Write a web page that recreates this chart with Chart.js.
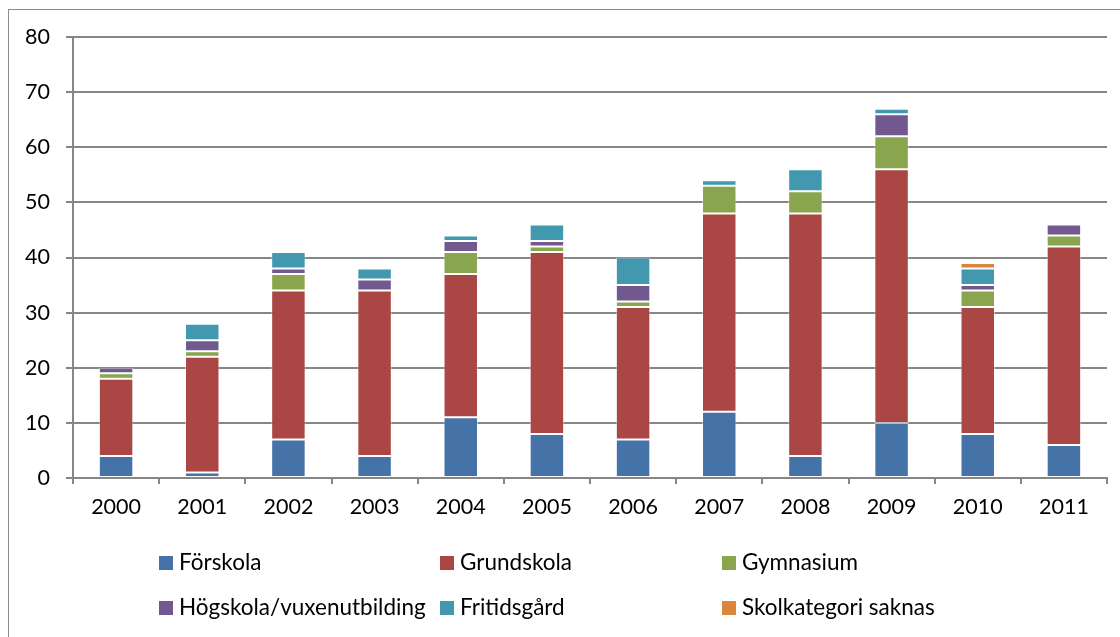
<!DOCTYPE html>
<html>
<head>
<meta charset="utf-8">
<script src="https://cdn.jsdelivr.net/npm/chart.js@4"></script>
<style>
  html, body { margin: 0; padding: 0; background: #fff; overflow: hidden; }
  #frame { position: absolute; left: 8px; top: 9px; width: 1200px; height: 700px; border: 1px solid #8c8c8c; }
  #wrap { position: absolute; left: 0; top: 0; width: 1120px; height: 637px; }
</style>
</head>
<body>
<div id="frame"></div>
<div id="wrap"><canvas id="chartCanvas" width="1120" height="637"></canvas></div>
<script>
const years = ["2000", "2001", "2002", "2003", "2004", "2005", "2006", "2007", "2008", "2009", "2010", "2011"];
const forskola = [4, 1, 7, 4, 11, 8, 7, 12, 4, 10, 8, 6];
const grundskola = [14, 21, 27, 30, 26, 33, 24, 36, 44, 46, 23, 36];
const gymnasium = [1, 1, 3, 0, 4, 1, 1, 5, 4, 6, 3, 2];
const hogskola = [1, 2, 1, 2, 2, 1, 3, 0, 0, 4, 1, 2];
const fritidsgard = [0, 3, 3, 2, 1, 3, 5, 1, 4, 1, 3, 0];
const saknas = [0, 0, 0, 0, 0, 0, 0, 0, 0, 0, 1, 0];

const fontName = "Lato, 'Open Sans', sans-serif";

function ds(label, data, color) {
  return {
    label: label,
    data: data,
    backgroundColor: color,
    borderColor: "rgba(255,255,255,0.45)",
    borderWidth: 1,
    borderSkipped: false,
    barPercentage: 0.4,
    categoryPercentage: 1,
  };
}

// legend in fixed columns, like the original
const gridLegend = {
  id: "gridLegend",
  afterDraw(c) {
    const g = c.ctx;
    const cols = [159, 440, 722];
    const rows = [563, 608];
    g.save();
    g.font = "22.5px " + fontName;
    g.textBaseline = "middle";
    c.data.datasets.forEach((d, i) => {
      const x = cols[i % 3];
      const y = rows[Math.floor(i / 3)];
      g.fillStyle = d.backgroundColor;
      g.fillRect(x, y - 7, 14, 14);
      g.fillStyle = "#000";
      g.fillText(d.label, x + 20, y);
    });
    g.restore();
  },
};

let ctx = document.getElementById("chartCanvas").getContext("2d");
const chart = new Chart(ctx, {
  type: "bar",
  data: {
    labels: years,
    datasets: [
      ds("Förskola", forskola, "#4572A7"),
      ds("Grundskola", grundskola, "#AA4643"),
      ds("Gymnasium", gymnasium, "#89A54E"),
      ds("Högskola/vuxenutbilding", hogskola, "#71588F"),
      ds("Fritidsgård", fritidsgard, "#4198AF"),
      ds("Skolkategori saknas", saknas, "#DB843D"),
    ],
  },
  options: {
    responsive: false,
    animation: false,
    layout: { padding: { left: 0, top: 37, right: 13, bottom: 0 } },
    scales: {
      x: {
        stacked: true,
        grid: {
          offset: true,
          drawOnChartArea: false,
          color: "#868686",
          lineWidth: 2,
          tickLength: 6,
        },
        border: { color: "#868686", width: 2 },
        ticks: { color: "#000", font: { family: fontName, size: 21.5 }, padding: 10, maxRotation: 0 },
        afterFit(s) { s.height = 159; },
      },
      y: {
        stacked: true,
        min: 0,
        max: 80,
        grid: { color: "#868686", lineWidth: 2, tickLength: 7 },
        border: { color: "#868686", width: 2 },
        ticks: { stepSize: 10, color: "#000", font: { family: fontName, size: 21.5 }, padding: 16 },
        afterFit(s) { s.width = 73; },
      },
    },
    plugins: {
      legend: { display: false },
      tooltip: { enabled: false },
    },
  },
  plugins: [gridLegend],
});
</script>
</body>
</html>
